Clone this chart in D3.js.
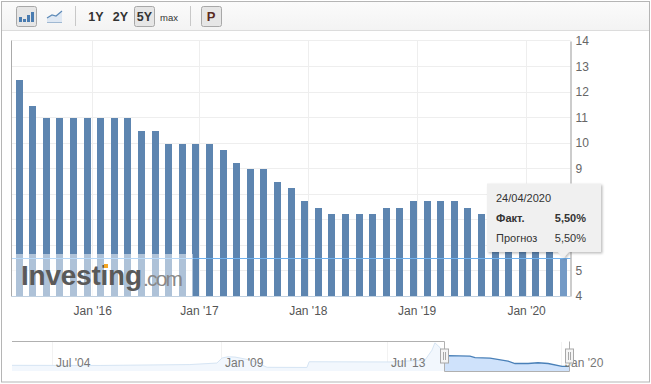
<!DOCTYPE html>
<html>
<head>
<meta charset="utf-8">
<script src="https://cdnjs.cloudflare.com/ajax/libs/d3/7.8.5/d3.min.js"></script>
<style>
    html, body { margin: 0; padding: 0; background: #fff; }
    svg { display: block; font-family: "Liberation Sans", Arial, sans-serif; }
    .tick text { font-family: "Liberation Sans", Arial, sans-serif; }
</style>
</head>
<body>
<div id="chart"></div>
<script>
// one bar per rate decision
const rateValues = [12.5, 11.5, 11, 11, 11, 11, 11, 11, 11, 10.5, 10.5, 10, 10, 10, 10, 9.75, 9.25, 9, 9, 8.5, 8.25,
    7.75, 7.5, 7.25, 7.25, 7.25, 7.25, 7.5, 7.5, 7.75, 7.75, 7.75, 7.75, 7.5, 7.25, 7, 6.5, 6.25, 6, 6, 5.5];

const yTicks = [5, 6, 7, 8, 9, 10, 11, 12, 13];
// 6, 7 and 8 sit behind the tooltip in the picture
const yTickLabels = [4, 5, 9, 10, 11, 12, 13, 14];

// axis is ordinal, so january falls between two decisions
const xTickLabels = ["Jan '16", "Jan '17", "Jan '18", "Jan '19", "Jan '20"];
const xTickIndex = [5.35, 13.2, 21.2, 29.2, 37.25];

// navigator: decimal year, rate
const navYears = [2003.43, 2005.78, 2008.17, 2008.89, 2009.03, 2009.19, 2009.38, 2009.79, 2010.25, 2011.33, 2011.39,
    2013.61, 2014.92, 2015.18, 2015.29, 2015.48, 2015.63, 2015.78, 2016.6, 2016.79, 2017.35, 2018.02, 2018.28,
    2018.77, 2019.14, 2019.52, 2020.04, 2020.3];
const navValues = [6.2, 6.1, 6.7, 7.7, 11, 11.8, 11.6, 9.7, 4.9, 4.8, 8.55,
    8.4, 9.65, 16.1, 20.9, 17.8, 12.45, 12.5, 12.25, 11.3, 10.95, 9, 7.4,
    7.4, 7.9, 7.4, 5.55, 5.5];
const navTickLabels = ["Jul '04", "Jan '09", "Jul '13", "Jan '20"];
const navTickYears = [2004.5, 2009, 2013.5, 2020];
const navSelectedFrom = 2015.63;

const tooltipDate = "24/04/2020";
const tooltipActualLabel = "Факт.";
const tooltipForecastLabel = "Прогноз";
const tooltipActual = "5,50%";
const tooltipForecast = "5,50%";

const width = 651, height = 384;
const plot = { left: 11.5, right: 570.5, top: 40.5, bottom: 296.5 };

const svg = d3.select("#chart").append("svg")
    .attr("width", width)
    .attr("height", height);

const defs = svg.append("defs");
const toolbarGrad = defs.append("linearGradient")
    .attr("id", "toolbar-grad")
    .attr("x1", 0).attr("y1", 0).attr("x2", 0).attr("y2", 1);
toolbarGrad.append("stop").attr("offset", "0%").attr("stop-color", "#fbfbfb");
toolbarGrad.append("stop").attr("offset", "100%").attr("stop-color", "#f3f3f3");

const shadow = defs.append("filter").attr("id", "tip-shadow")
    .attr("x", "-10%").attr("y", "-10%").attr("width", "125%").attr("height", "130%");
shadow.append("feDropShadow")
    .attr("dx", 1.5).attr("dy", 1.5).attr("stdDeviation", 1.2)
    .attr("flood-color", "#000").attr("flood-opacity", 0.25);

// outer frame
svg.append("rect")
    .attr("x", 1.5).attr("y", 1.5)
    .attr("width", width - 3).attr("height", height - 3.5)
    .attr("fill", "#fff")
    .attr("stroke", "#b5b5b5");

drawToolbar();

const yScale = d3.scaleLinear().domain([4, 14]).range([296, 41]);

const xIndex = d3.scaleLinear()
    .domain([0, rateValues.length - 1])
    .range([19.5, 563.5]);

const barWidth = 7;

// grid
svg.append("g").selectAll("line")
    .data(yTicks)
    .join("line")
    .attr("x1", plot.left).attr("x2", plot.right)
    .attr("y1", d => Math.floor(yScale(d)) + 0.5)
    .attr("y2", d => Math.floor(yScale(d)) + 0.5)
    .attr("stroke", "#eeeeee");

svg.append("line")
    .attr("x1", plot.left).attr("x2", plot.right)
    .attr("y1", plot.top).attr("y2", plot.top)
    .attr("stroke", "#eeeeee");

svg.append("g").selectAll("line")
    .data(xTickIndex)
    .join("line")
    .attr("x1", d => Math.round(xIndex(d)) + 0.5)
    .attr("x2", d => Math.round(xIndex(d)) + 0.5)
    .attr("y1", plot.top).attr("y2", plot.bottom)
    .attr("stroke", "#eeeeee");

// bars
svg.append("g").selectAll("rect")
    .data(rateValues)
    .join("rect")
    .attr("x", (d, i) => Math.floor(xIndex(i) - barWidth / 2))
    .attr("y", d => Math.round(yScale(d) + 0.75))
    .attr("width", barWidth)
    .attr("height", d => 296 - Math.round(yScale(d) + 0.75))
    .attr("fill", (d, i) => i === rateValues.length - 1 ? "#739ac6" : "#5d85b0");

// crosshair on the hovered point
svg.append("line")
    .attr("x1", plot.left).attr("x2", plot.right)
    .attr("y1", Math.round(yScale(rateValues[rateValues.length - 1])) + 0.5)
    .attr("y2", Math.round(yScale(rateValues[rateValues.length - 1])) + 0.5)
    .attr("stroke", "#6fb1ee");

// axis lines
const yAxis = d3.axisRight(yScale).tickValues(yTickLabels).tickSize(0).tickPadding(5);
const yAxisG = svg.append("g")
    .attr("transform", `translate(${plot.right},0)`)
    .call(yAxis);
yAxisG.select(".domain").attr("stroke", "#999");
yAxisG.selectAll("text").attr("fill", "#666").style("font-size", "12px");

svg.append("line")
    .attr("x1", plot.left).attr("x2", plot.left)
    .attr("y1", plot.top).attr("y2", plot.bottom)
    .attr("stroke", "#aaa");

const xAxis = d3.axisBottom(xIndex)
    .tickValues(xTickIndex)
    .tickFormat((d, i) => xTickLabels[i])
    .tickSize(0)
    .tickPadding(10);
const xAxisG = svg.append("g")
    .attr("transform", `translate(0,${plot.bottom})`)
    .call(xAxis);
xAxisG.select(".domain").remove();
xAxisG.selectAll("text").attr("fill", "#555").style("font-size", "12px");

svg.append("line")
    .attr("x1", plot.left).attr("x2", plot.right)
    .attr("y1", plot.bottom).attr("y2", plot.bottom)
    .attr("stroke", "#c0d0e0");

drawWatermark();
drawNavigator();
drawTooltip();

function drawToolbar() {
    svg.append("rect")
        .attr("x", 2).attr("y", 2)
        .attr("width", width - 4).attr("height", 28)
        .attr("fill", "url(#toolbar-grad)");
    svg.append("line")
        .attr("x1", 2).attr("x2", width - 2)
        .attr("y1", 30.5).attr("y2", 30.5)
        .attr("stroke", "#dcdcdc");

    function button(x, w) {
        svg.append("rect")
            .attr("x", x + 0.5).attr("y", 6.5)
            .attr("width", w).attr("height", 20)
            .attr("rx", 2)
            .attr("fill", "#e6e6e6")
            .attr("stroke", "#a8a8a8");
    }
    button(16, 20);
    button(134, 20);
    button(201, 20);

    [75.5, 190.5].forEach(x => {
        svg.append("line")
            .attr("x1", x).attr("x2", x)
            .attr("y1", 6).attr("y2", 26)
            .attr("stroke", "#c8c8c8");
    });

    // bar icon
    [[19, 17, 5], [23, 19, 3], [27, 15, 7], [31, 12, 10]].forEach(b => {
        svg.append("rect")
            .attr("x", b[0]).attr("y", b[1])
            .attr("width", 3).attr("height", b[2])
            .attr("fill", "#4a7cb0");
    });

    // line icon
    svg.append("path")
        .attr("d", "M47,18 L52,15 L56,16 L62,11 L62,23 L47,23 Z")
        .attr("fill", "#dfe8f3");
    svg.append("path")
        .attr("d", "M47,18 L52,15 L56,16 L62,11")
        .attr("fill", "none")
        .attr("stroke", "#5d8ab8")
        .attr("stroke-width", 1.2);
    svg.append("line")
        .attr("x1", 47).attr("x2", 62)
        .attr("y1", 22.5).attr("y2", 22.5)
        .attr("stroke", "#9fb8d2");

    function label(txt, x, size, color) {
        svg.append("text")
            .attr("x", x).attr("y", 20.5)
            .attr("text-anchor", "middle")
            .attr("font-weight", size > 11 ? "bold" : "normal")
            .attr("font-size", size)
            .attr("fill", color || "#333")
            .text(txt);
    }
    label("1Y", 96, 12.5);
    label("2Y", 120.5, 12.5);
    label("5Y", 144.5, 12.5);
    label("max", 169, 9.5);
    label("P", 211, 13, "#5a2a1e");
}

function drawWatermark() {
    const g = svg.append("g");
    g.append("rect")
        .attr("x", 12).attr("y", 254)
        .attr("width", 181).attr("height", 42)
        .attr("fill", "#fff")
        .attr("opacity", 0.5);
    g.append("text")
        .attr("x", 21).attr("y", 285)
        .attr("font-size", 28)
        .attr("font-weight", "bold")
        .attr("textLength", 121)
        .attr("fill", "#5a5a5a")
        .text("Investing");
    g.append("text")
        .attr("x", 143).attr("y", 286)
        .attr("font-size", 21)
        .attr("textLength", 40)
        .attr("fill", "#888")
        .text(".com");
    g.append("rect")
        .attr("x", 104).attr("y", 264)
        .attr("width", 4).attr("height", 4)
        .attr("fill", "#f5a623");
}

function drawNavigator() {
    const navX = d3.scaleLinear()
        .domain([2003.43, 2004.5, 2009, 2013.5, 2020, 2020.3])
        .range([12, 52, 221, 387, 561, 569]);
    const navY = d3.scaleLinear().domain([5.5, 12.5]).range([366.4, 355.7]);
    const navBase = 371;

    const navData = navYears.map((y, i) => ({ year: y, value: navValues[i] }));
    const before = navData.filter(d => d.year <= navSelectedFrom);
    const selected = navData.filter(d => d.year >= navSelectedFrom);

    const area = d3.area().x(d => navX(d.year)).y0(navBase).y1(d => navY(d.value));
    const line = d3.line().x(d => navX(d.year)).y(d => navY(d.value));

    svg.append("g").selectAll("line")
        .data(navTickYears)
        .join("line")
        .attr("x1", d => Math.round(navX(d)) + 0.5)
        .attr("x2", d => Math.round(navX(d)) + 0.5)
        .attr("y1", 342).attr("y2", navBase)
        .attr("stroke", "#f2f2f2");

    svg.append("path").datum(before)
        .attr("d", area)
        .attr("fill", "#f2f7fd");
    svg.append("path").datum(before)
        .attr("d", line)
        .attr("fill", "none")
        .attr("stroke", "#d6e5f4");

    svg.append("path").datum(selected)
        .attr("d", area)
        .attr("fill", "#cfe2fb");
    svg.append("path").datum(selected)
        .attr("d", line)
        .attr("fill", "none")
        .attr("stroke", "#4a80b8")
        .attr("stroke-width", 1.3);

    svg.append("g").selectAll("text")
        .data(navTickYears)
        .join("text")
        .attr("x", d => navX(d) + 4)
        .attr("y", 367)
        .attr("font-size", 12)
        .attr("fill", "#777")
        .text((d, i) => navTickLabels[i]);

    const x0 = Math.round(navX(navSelectedFrom)) + 0.5;
    const x1 = Math.round(navX(2020.3)) + 0.5;

    // outline that steps down around the selected window
    svg.append("path")
        .attr("d", d3.line()([[12, 341.5], [x0, 341.5], [x0, navBase + 0.5], [x1, navBase + 0.5], [x1, 341.5]]))
        .attr("fill", "none")
        .attr("stroke", "#b0b0b0");

    [x0, x1].forEach(x => {
        svg.append("rect")
            .attr("x", x - 4).attr("y", 349)
            .attr("width", 8).attr("height", 14)
            .attr("fill", "#f4f4f4")
            .attr("stroke", "#a8a8a8");
        [-1, 1].forEach(o => {
            svg.append("line")
                .attr("x1", x + o).attr("x2", x + o)
                .attr("y1", 352).attr("y2", 360)
                .attr("stroke", "#a8a8a8");
        });
    });
}

function drawTooltip() {
    const last = rateValues.length - 1;
    const px = xIndex(last);
    const g = svg.append("g");
    g.append("path")
        .attr("d", d3.line()([[487, 183.5], [601, 183.5], [601, 252], [px + 5, 252], [px, 258], [px - 5, 252], [487, 252]]) + "Z")
        .attr("fill", "#f0f0f0")
        .attr("filter", "url(#tip-shadow)");

    function row(txt, x, y, anchor, bold) {
        g.append("text")
            .attr("x", x).attr("y", y)
            .attr("text-anchor", anchor)
            .attr("font-size", 11)
            .attr("font-weight", bold ? "bold" : "normal")
            .attr("fill", "#333")
            .text(txt);
    }
    row(tooltipDate, 496, 202, "start");
    row(tooltipActualLabel, 496, 222, "start", true);
    row(tooltipActual, 586, 222, "end", true);
    row(tooltipForecastLabel, 496, 242, "start");
    row(tooltipForecast, 586, 242, "end");
}
</script>
</body>
</html>
